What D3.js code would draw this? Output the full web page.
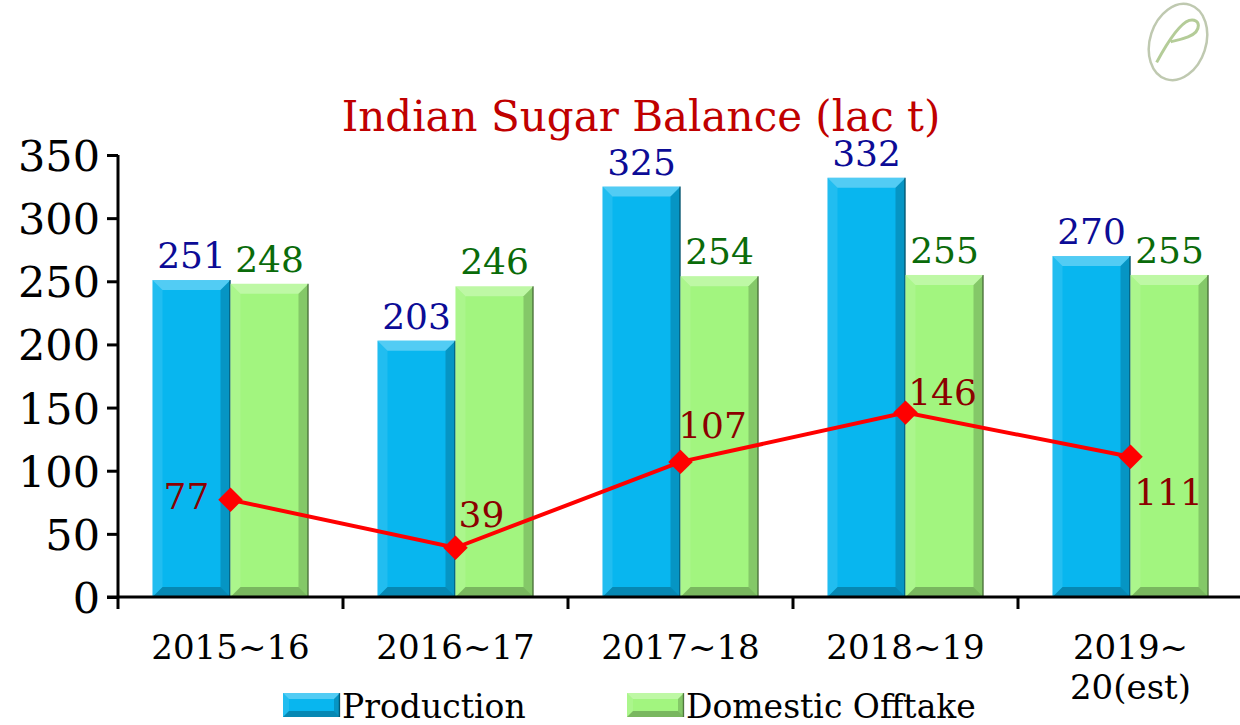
<!DOCTYPE html>
<html>
<head>
<meta charset="utf-8">
<script src="https://cdn.jsdelivr.net/npm/d3@7"></script>
<style>
body { margin: 0; background: #fff; }
svg text { font-family: "DejaVu Serif", "Liberation Serif", serif; }
</style>
</head>
<body>
<svg width="1240" height="725"></svg>
<script>
var seasons = ["2015-16", "2016-17", "2017-18", "2018-19", "2019-20(est)"];
var seasonLabels = [["2015~16"], ["2016~17"], ["2017~18"], ["2018~19"], ["2019~", "20(est)"]];
var production = [251, 203, 325, 332, 270];
var offtake = [248, 246, 254, 255, 255];
var closingStock = [77, 39, 107, 146, 111];
var yTicks = [0, 50, 100, 150, 200, 250, 300, 350];

var svg = d3.select("svg");

var x = d3.scaleBand().domain(seasons).range([118, 1243]).padding(0);
var x1 = d3.scaleBand().domain(["prod", "off"]).range([34.5, 190.5]).padding(0);
var y = d3.scaleLinear().domain([0, 350]).range([597, 155]);

var series = [
  {key: "prod", name: "Production", values: production, fill: "#08b6ef", label: "#0c0c96"},
  {key: "off", name: "Domestic Offtake", values: offtake, fill: "#a2f57f", label: "#0a6b0a"}
];

// bevelled bar, like the office chart style
function bevelBar(g, x0, y0, w, h, fill, bev) {
  var b = Math.min(bev || 10, h / 2);
  g.append("rect").attr("x", x0).attr("y", y0).attr("width", w).attr("height", h).attr("fill", fill);
  var x1_ = x0 + w, y1_ = y0 + h;
  var faces = [
    {pts: [[x0, y0], [x1_, y0], [x1_ - b, y0 + b], [x0 + b, y0 + b]], c: "#fff", o: 0.3},
    {pts: [[x0, y0], [x0 + b, y0 + b], [x0 + b, y1_ - b], [x0, y1_]], c: "#fff", o: 0.1},
    {pts: [[x1_, y0], [x1_, y1_], [x1_ - b, y1_ - b], [x1_ - b, y0 + b]], c: "#000", o: 0.18},
    {pts: [[x0, y1_], [x0 + b, y1_ - b], [x1_ - b, y1_ - b], [x1_, y1_]], c: "#000", o: 0.25}
  ];
  faces.forEach(function(f) {
    g.append("polygon").attr("points", f.pts.map(function(p) { return p.join(","); }).join(" "))
      .attr("fill", f.c).attr("fill-opacity", f.o);
  });
  g.append("line").attr("x1", x1_ - 0.5).attr("x2", x1_ - 0.5).attr("y1", y0).attr("y2", y1_)
    .attr("stroke", "#000").attr("stroke-opacity", 0.4).attr("stroke-width", 1.5);
}

// title
svg.append("text").attr("x", 641).attr("y", 131).attr("text-anchor", "middle")
  .attr("font-size", 42).attr("fill", "#c00000").text("Indian Sugar Balance (lac t)");

// watermark
var wm = svg.append("g").attr("transform", "translate(1178,42) rotate(18)");
wm.append("ellipse").attr("rx", 28).attr("ry", 39).attr("fill", "none").attr("stroke", "#bfc9b0").attr("stroke-width", 2.5);
wm.append("path").attr("d", "M-14,26 C-10,4 -4,-18 4,-24 C14,-30 20,-18 8,-8 C2,-3 -4,0 -7,2")
  .attr("fill", "none").attr("stroke", "#b4cc98").attr("stroke-width", 3);

// bars
var bars = svg.append("g");
seasons.forEach(function(s, i) {
  series.forEach(function(se) {
    var v = se.values[i];
    bevelBar(bars, x(s) + x1(se.key), y(v), x1.bandwidth(), y(0) - y(v), se.fill);
    svg.append("text").attr("x", x(s) + x1(se.key) + x1.bandwidth() / 2).attr("y", y(v) - 12)
      .attr("text-anchor", "middle").attr("font-size", 36).attr("fill", se.label).text(v);
  });
});

// axes
var yAxis = svg.append("g").attr("transform", "translate(118,0)")
  .call(d3.axisLeft(y).tickValues(yTicks).tickSize(11).tickPadding(7));
yAxis.select(".domain").attr("stroke-width", 3).attr("d", "M0," + y(350) + "V" + (y(0) + 12));
yAxis.selectAll(".tick line").attr("stroke-width", 3);
yAxis.selectAll(".tick text").attr("font-size", 43).attr("fill", "#000").attr("dy", "0.36em");

var xAxis = svg.append("g").attr("transform", "translate(0," + y(0) + ")");
xAxis.append("line").attr("x1", 107).attr("x2", 1240).attr("stroke", "#000").attr("stroke-width", 3);
xAxis.selectAll(".xt").data(seasons.slice(1)).enter().append("line")
  .attr("x1", function(d) { return x(d); }).attr("x2", function(d) { return x(d); })
  .attr("y1", 0).attr("y2", 12).attr("stroke", "#000").attr("stroke-width", 3);
seasons.forEach(function(s, i) {
  var t = xAxis.append("text").attr("x", x(s) + x.bandwidth() / 2).attr("y", 62)
    .attr("text-anchor", "middle").attr("font-size", 34).attr("fill", "#000");
  seasonLabels[i].forEach(function(l, j) {
    t.append("tspan").attr("x", x(s) + x.bandwidth() / 2).attr("dy", j ? 40 : 0).text(l);
  });
});

// closing stock line
var cx = function(i) { return x(seasons[i]) + x.bandwidth() / 2; };
var line = d3.line().x(function(d, i) { return cx(i); }).y(function(d) { return y(d); });
svg.append("path").datum(closingStock).attr("d", line)
  .attr("fill", "none").attr("stroke", "#ff0000").attr("stroke-width", 4);
svg.selectAll(".dia").data(closingStock).enter().append("path")
  .attr("d", d3.symbol().type(d3.symbolSquare).size(300))
  .attr("transform", function(d, i) { return "translate(" + cx(i) + "," + y(d) + ") rotate(45)"; })
  .attr("fill", "#ff0000");
var labelOffsets = [[-44, 9], [26, -21], [32, -24], [37, -8], [38, 48]];
svg.selectAll(".cl").data(closingStock).enter().append("text")
  .attr("x", function(d, i) { return cx(i) + labelOffsets[i][0]; })
  .attr("y", function(d, i) { return y(d) + labelOffsets[i][1]; })
  .attr("text-anchor", "middle").attr("font-size", 36).attr("fill", "#8b0000")
  .text(function(d) { return d; });

// legend
var legX = [283, 627];
series.forEach(function(se, i) {
  var g = svg.append("g");
  bevelBar(g, legX[i], 693, 57, 24, se.fill, 6);
  g.append("text").attr("x", legX[i] + 59).attr("y", 718).attr("font-size", 33).attr("fill", "#000").text(se.name);
});
</script>
</body>
</html>
